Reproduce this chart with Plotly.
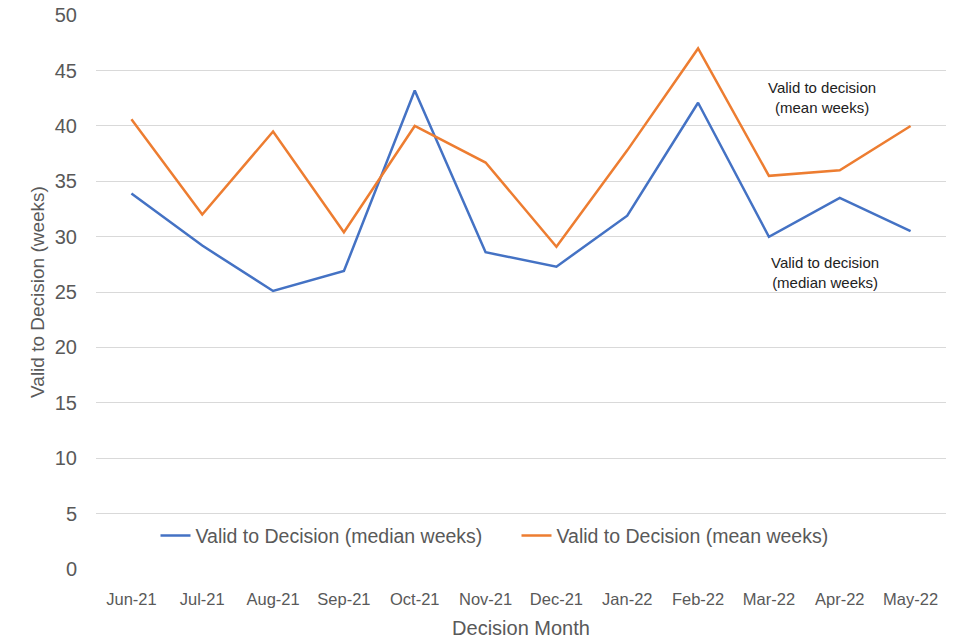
import plotly.graph_objects as go

# Decision months and the two series (weeks)
months = ["Jun-21", "Jul-21", "Aug-21", "Sep-21", "Oct-21", "Nov-21",
          "Dec-21", "Jan-22", "Feb-22", "Mar-22", "Apr-22", "May-22"]
median_weeks = [33.9, 29.2, 25.1, 26.9, 43.2, 28.6, 27.3, 31.9, 42.1, 30.0, 33.5, 30.5]
mean_weeks = [40.6, 32.0, 39.5, 30.4, 40.0, 36.7, 29.1, 37.8, 47.0, 35.5, 36.0, 40.0]
y_ticks = [0, 5, 10, 15, 20, 25, 30, 35, 40, 45, 50]

font_family = "Liberation Sans, Arial, sans-serif"
grey = "#595959"

fig = go.Figure()
fig.add_trace(go.Scatter(x=months, y=median_weeks, mode="lines",
                         name="Valid to Decision (median weeks)",
                         line=dict(color="#4472C4", width=2.5)))
fig.add_trace(go.Scatter(x=months, y=mean_weeks, mode="lines",
                         name="Valid to Decision (mean weeks)",
                         line=dict(color="#ED7D31", width=2.5)))

# text labels next to the lines on the right
fig.add_annotation(x="Mar-22", y=42.55, xshift=53, text="Valid to decision<br>(mean weeks)",
                   showarrow=False, font=dict(size=15, color="#222222", family=font_family))
fig.add_annotation(x="Mar-22", y=26.8, xshift=56, text="Valid to decision<br>(median weeks)",
                   showarrow=False, font=dict(size=15, color="#222222", family=font_family))

# thin teal edge on the right of the image
fig.add_shape(type="line", xref="paper", yref="paper", x0=1.0153, x1=1.0153, y0=-0.2, y1=1.05,
              line=dict(color="#2E8B8B", width=2))

fig.update_layout(
    width=960, height=640,
    margin=dict(l=88, r=22, t=7, b=79),
    paper_bgcolor="white", plot_bgcolor="white",
    font=dict(family=font_family, color=grey),
    showlegend=True,
    legend=dict(orientation="h", x=0.07, xanchor="left", y=0.06, yanchor="middle",
                bgcolor="rgba(0,0,0,0)", font=dict(size=19.5, color=grey),
                itemwidth=30, tracegroupgap=0, entrywidth=316, entrywidthmode="pixels"),
    xaxis=dict(type="category", range=[-0.5, 11.5], showgrid=False, showline=False,
               ticks="", tickfont=dict(size=16.5, color=grey), automargin=False,
               ticklabelstandoff=18,
               title=dict(text="Decision Month", font=dict(size=20, color=grey), standoff=14)),
    yaxis=dict(range=[0, 50.02], tickvals=y_ticks, showgrid=True, gridcolor="#D9D9D9",
               gridwidth=1, zeroline=False, showline=False, ticks="", automargin=False,
               tickfont=dict(size=20, color=grey), ticklabelstandoff=18,
               ticklabeloverflow="allow",
               title=dict(text="Valid to Decision (weeks)", font=dict(size=19, color=grey),
                          standoff=5)),
)

fig.write_html("out.html")
